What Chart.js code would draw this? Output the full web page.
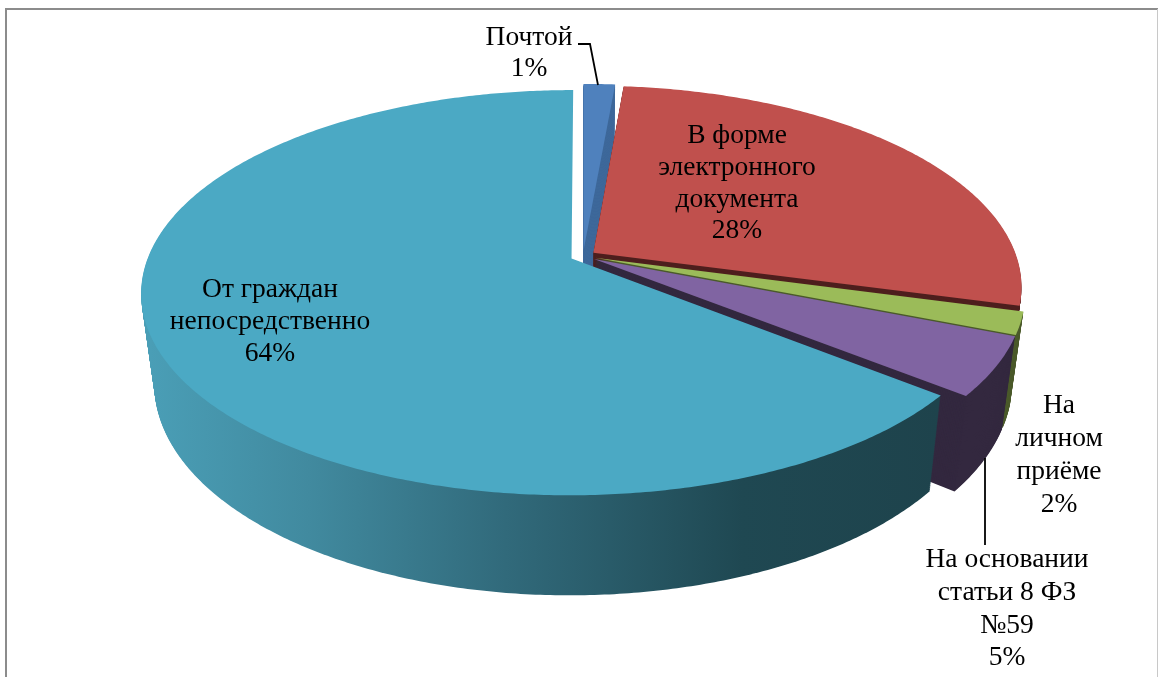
<!DOCTYPE html>
<html>
<head>
<meta charset="utf-8">
<script src="https://cdn.jsdelivr.net/npm/chart.js@4"></script>
<style>
html, body { margin: 0; padding: 0; background: #fff; overflow: hidden; }
canvas { display: block; }
</style>
</head>
<body>
<canvas id="mycanvas" width="1158" height="677"></canvas>
<script>
var categories = ["Почтой", "В форме электронного документа", "На личном приёме", "На основании статьи 8 ФЗ №59", "От граждан непосредственно"];
var shares = [1.4, 27.8, 1.8, 4.7, 64.3];
var topColors = ["#4F81BD", "#C0504D", "#9BBB59", "#8064A2", "#4BA9C4"];
var wallColors = ["#3F699B", "#4E1F1E", "#4B5A2B", "#33283F", "#1E434C"];

// where the labels go, one line of text each
var labelLines = [
    ["Почтой"],
    ["В форме", "электронного", "документа"],
    ["На", "личном", "приёме"],
    ["На основании", "статьи 8 ФЗ", "№59"],
    ["От граждан", "непосредственно"]
];
var labelPos = [
    { x: 529, y: 38, step: 31 },
    { x: 737, y: 136, step: 31.7 },
    { x: 1059, y: 406, step: 32.8 },
    { x: 1007, y: 560, step: 32.7 },
    { x: 270, y: 290, step: 32 }
];

// projection of the flat pie to a tilted one
var cx = 583, cy = 256, rx = 423, ry = 196, tilt = 0.168;
var explode = 0.03, depth = 89, shrink = 0.03;

function project(u, v, t) {
    var w = 1 - tilt * v;
    var x = rx * u / w;
    var y = ry * v / w;
    var s = 1 - shrink * t;
    return { x: cx + x * s, y: cy + y * s + depth * t / w };
}

function slicePath(ctx, arc, t, endAngle) {
    var mid = (arc.startAngle + arc.endAngle) / 2;
    var ou = Math.cos(mid) * explode;
    var ov = Math.sin(mid) * explode;
    var p = project(ou, ov, t);
    ctx.beginPath();
    ctx.moveTo(p.x, p.y);
    var n = Math.ceil((endAngle - arc.startAngle) / 0.01);
    for (var i = 0; i <= n; i++) {
        var a = arc.startAngle + (endAngle - arc.startAngle) * i / n;
        p = project(ou + Math.cos(a), ov + Math.sin(a), t);
        ctx.lineTo(p.x, p.y);
    }
    ctx.closePath();
}

var tiltedPie = {
    id: "tiltedPie",
    beforeDatasetsDraw: function(chart) {
        var ctx = chart.ctx;
        var arcs = chart.getDatasetMeta(0).data;

        var grad = ctx.createLinearGradient(150, 0, 940, 0);
        grad.addColorStop(0, "#4A9EB6");
        grad.addColorStop(0.2, "#418A9F");
        grad.addColorStop(0.45, "#316A7B");
        grad.addColorStop(0.75, "#1F4852");
        grad.addColorStop(1, "#1E434C");

        for (var i = 0; i < arcs.length; i++) {
            // the big slice shows no wall along its far half
            var wallEnd = i == 4 ? Math.min(arcs[i].endAngle, Math.PI * 1.1) : arcs[i].endAngle;
            ctx.fillStyle = i == 4 ? grad : wallColors[i];
            for (var t = 110; t > 0; t--) {
                slicePath(ctx, arcs[i], t / 110, wallEnd);
                ctx.fill();
            }
            ctx.fillStyle = topColors[i];
            slicePath(ctx, arcs[i], 0, arcs[i].endAngle);
            ctx.fill();
        }
        return false;
    },
    afterDraw: function(chart) {
        var ctx = chart.ctx;

        // frame, the bottom side is cut off in the picture
        ctx.strokeStyle = "#8C8C8C";
        ctx.lineWidth = 2;
        ctx.beginPath();
        ctx.moveTo(6, 677);
        ctx.lineTo(6, 9);
        ctx.lineTo(1158, 9);
        ctx.stroke();
        ctx.strokeStyle = "#C8C8C8";
        ctx.lineWidth = 1;
        ctx.beginPath();
        ctx.moveTo(1157.5, 9);
        ctx.lineTo(1157.5, 677);
        ctx.stroke();

        // leader lines
        ctx.strokeStyle = "#000";
        ctx.lineWidth = 1.8;
        ctx.beginPath();
        ctx.moveTo(578, 44);
        ctx.lineTo(590, 44);
        ctx.lineTo(598, 85);
        ctx.stroke();
        ctx.beginPath();
        ctx.moveTo(985, 458);
        ctx.lineTo(985, 545);
        ctx.stroke();

        ctx.fillStyle = "#000";
        ctx.font = "27.5px 'Liberation Serif'";
        ctx.textAlign = "center";
        ctx.textBaseline = "middle";
        for (var i = 0; i < labelLines.length; i++) {
            var lines = labelLines[i].concat(Math.round(shares[i]) + "%");
            for (var j = 0; j < lines.length; j++) {
                ctx.fillText(lines[j], labelPos[i].x, labelPos[i].y + j * labelPos[i].step);
            }
        }
    }
};

var LineGraph = new Chart(document.getElementById("mycanvas"), {
    type: "pie",
    data: {
        labels: categories,
        datasets: [{ data: shares, backgroundColor: topColors, borderWidth: 0 }]
    },
    options: {
        responsive: false,
        animation: false,
        plugins: { legend: { display: false }, tooltip: { enabled: false } }
    },
    plugins: [tiltedPie]
});
</script>
</body>
</html>
